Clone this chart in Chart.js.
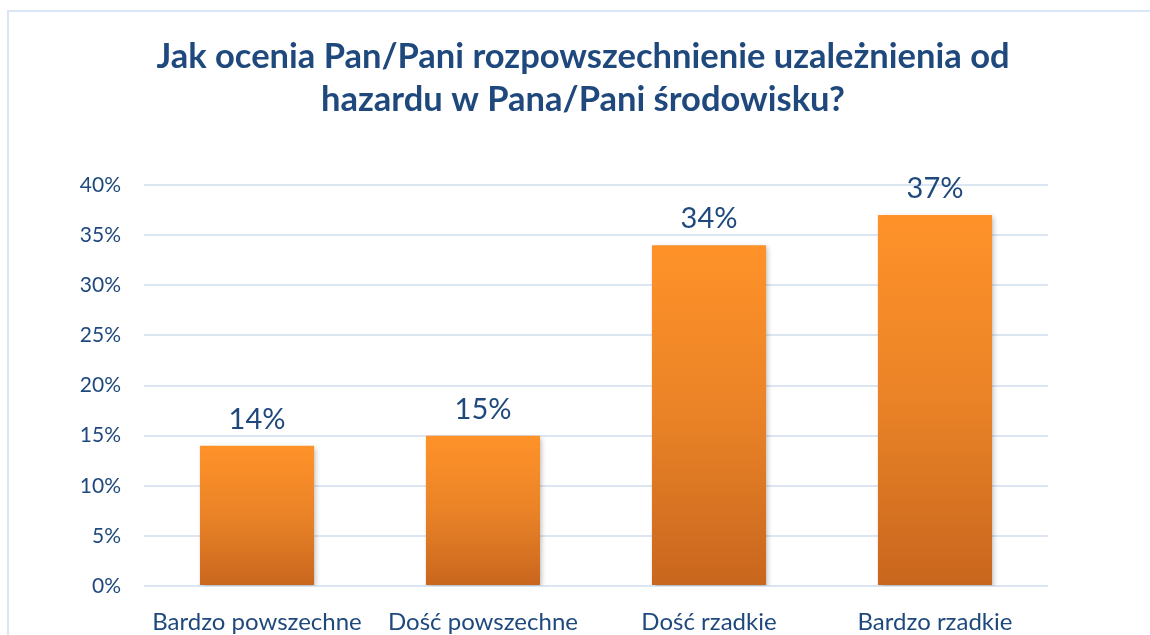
<!DOCTYPE html>
<html lang="pl">
<head>
<meta charset="utf-8">
<title>Rozpowszechnienie uzależnienia od hazardu</title>
<script src="https://cdn.jsdelivr.net/npm/chart.js@4.4.1/dist/chart.umd.min.js"></script>
<style>
  html, body { margin: 0; padding: 0; background: #fff; }
  #wrap { width: 1150px; height: 635px; }
</style>
</head>
<body>
<div id="wrap"><canvas id="chart" width="1150" height="635"></canvas></div>
<script>
// ── dane ──
const categories = ['Bardzo powszechne', 'Dość powszechne', 'Dość rzadkie', 'Bardzo rzadkie'];
const values = [14, 15, 34, 37];
const yTicks = [0, 5, 10, 15, 20, 25, 30, 35, 40];
const titleLines = ['Jak ocenia Pan/Pani rozpowszechnienie uzależnienia od', 'hazardu w Pana/Pani środowisku?'];

const TEXT = '#1F497D';
const FONT = 'Lato, "Open Sans", sans-serif';

// gradient per słupek: jasny pomarańcz u góry, ciemniejszy u dołu
function barFill(ctx) {
  const chart = ctx.chart;
  if (!chart.chartArea || !chart.scales.y) return '#F28A28';
  const y = chart.scales.y;
  const top = y.getPixelForValue(ctx.raw);
  const bottom = y.getPixelForValue(0);
  const g = chart.ctx.createLinearGradient(0, top, 0, bottom);
  g.addColorStop(0, '#FF9229');
  g.addColorStop(0.5, '#EA8327');
  g.addColorStop(1, '#C8661E');
  return g;
}

// ramka + tytuł (wyśrodkowany na całej szerokości, nie nad obszarem wykresu)
const framePlugin = {
  id: 'frame',
  beforeDraw(chart) {
    const c = chart.ctx;
    c.save();
    c.strokeStyle = '#DAE5F5';
    c.lineWidth = 2;
    c.strokeRect(8, 11, chart.width + 20, chart.height + 20);
    c.fillStyle = TEXT;
    c.font = 'bold 34.5px ' + FONT;
    c.textAlign = 'center';
    c.textBaseline = 'middle';
    titleLines.forEach((line, i) => c.fillText(line, 583, 57 + i * 43));
    c.restore();
  }
};

// cień pod słupkami
const shadowPlugin = {
  id: 'barShadow',
  beforeDatasetsDraw(chart) {
    const c = chart.ctx;
    c.save();
    c.shadowColor = 'rgba(0,0,0,0.25)';
    c.shadowBlur = 5;
    c.shadowOffsetX = 2;
    c.shadowOffsetY = 2;
  },
  afterDatasetsDraw(chart) {
    chart.ctx.restore();
  }
};

// etykiety wartości nad słupkami
const valueLabels = {
  id: 'valueLabels',
  afterDatasetsDraw(chart) {
    const c = chart.ctx;
    const meta = chart.getDatasetMeta(0);
    c.save();
    c.fillStyle = TEXT;
    c.font = '29px ' + FONT;
    c.textAlign = 'center';
    c.textBaseline = 'alphabetic';
    meta.data.forEach((bar, i) => {
      c.fillText(values[i] + '%', bar.x, bar.y - 17);
    });
    c.restore();
  }
};

new Chart(document.getElementById('chart'), {
  type: 'bar',
  data: {
    labels: categories,
    datasets: [{
      data: values,
      backgroundColor: barFill,
      borderWidth: 0,
      categoryPercentage: 1,
      barPercentage: 0.505,
    }],
  },
  options: {
    responsive: false,
    animation: false,
    layout: { padding: { top: 185, left: 0, right: 102, bottom: 0 } },
    plugins: {
      legend: { display: false },
      tooltip: { enabled: false },
      title: { display: false },
    },
    scales: {
      y: {
        min: 0,
        max: 40,
        afterBuildTicks(scale) { scale.ticks = yTicks.map(v => ({ value: v })); },
        afterFit(scale) { scale.width = 144; },
        ticks: {
          color: TEXT,
          font: { family: FONT, size: 21 },
          padding: 23,
          callback: v => v + '%',
        },
        grid: { color: '#DCE6F2', lineWidth: 2, drawTicks: false },
        border: { display: false },
      },
      x: {
        afterFit(scale) { scale.height = 49; },
        ticks: {
          color: TEXT,
          font: { family: FONT, size: 24 },
          padding: 14,
          maxRotation: 0,
        },
        grid: { display: false },
        border: { display: false },
      },
    },
  },
  plugins: [framePlugin, shadowPlugin, valueLabels],
});
</script>
</body>
</html>
